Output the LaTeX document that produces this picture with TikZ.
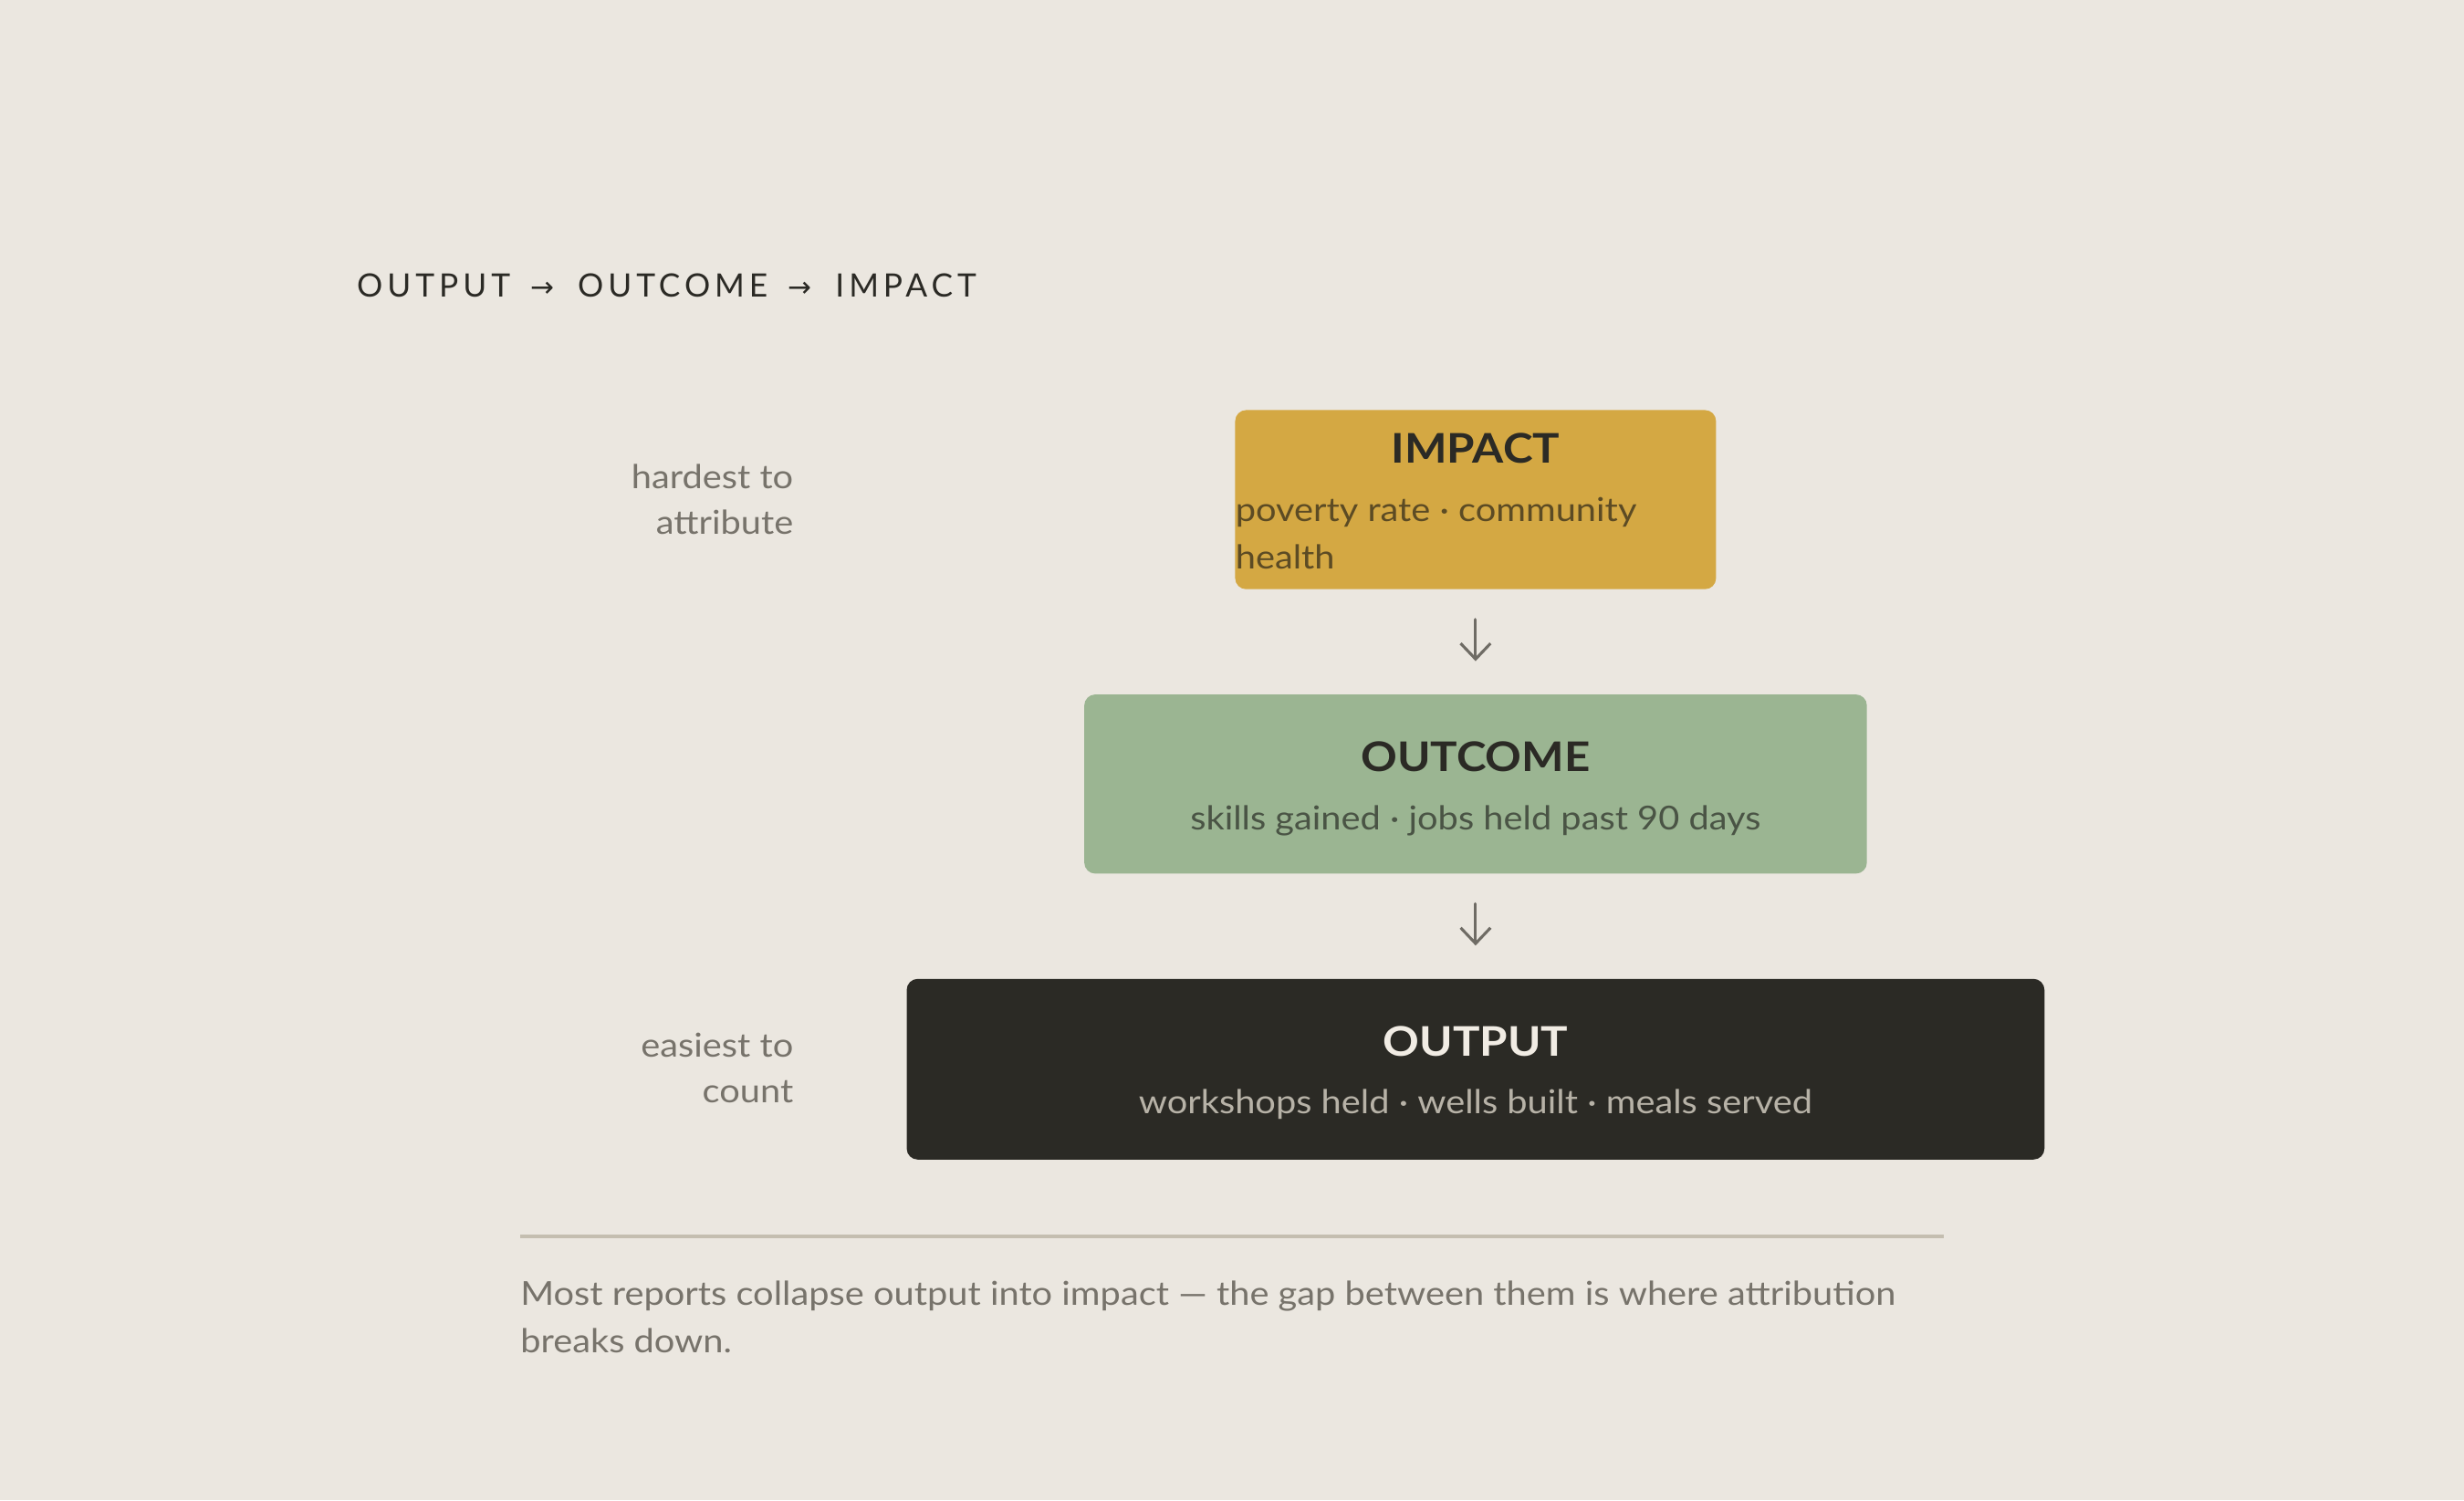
\documentclass[tikz,border=0pt]{standalone}
\usepackage{fontspec}
\setmainfont{Lato}[FakeStretch=1.1]
\newfontfamily\hdfont{Lato}
\newfontfamily\symfont{DejaVu Sans}
\usetikzlibrary{arrows.meta}
\definecolor{bg}{HTML}{EBE7E0}
\definecolor{ink}{HTML}{2B2A25}
\definecolor{gold}{HTML}{D4A843}
\definecolor{sage}{HTML}{9BB592}
\definecolor{goldtxt}{HTML}{5C4B24}
\definecolor{sagetxt}{HTML}{4A5445}
\definecolor{darktxt}{HTML}{B7B2A7}
\definecolor{cream}{HTML}{F1ECE4}
\definecolor{muted}{HTML}{77736B}
\definecolor{rule}{HTML}{C4BEB0}
\definecolor{arrowc}{HTML}{6F6C65}
\tikzset{
  stagebox/.style={rounded corners=7pt, inner sep=0pt},
  stagetitle/.style={anchor=base, inner sep=0pt, font=\fontsize{26}{32}\selectfont\bfseries},
  stagesub/.style={anchor=base, inner sep=0pt, font=\fontsize{21}{30}\selectfont},
  sidelabel/.style={anchor=base east, inner sep=0pt, text=muted, font=\fontsize{21}{29}\selectfont},
  flowarrow/.style={draw=arrowc, line width=1.8pt, line cap=round,
     -{Straight Barb[length=10pt,width=19pt,line width=1.8pt]}},
}
\newcommand{\hdarrow}{\hspace{13pt}{\symfont\fontsize{18}{18}\selectfont→}\hspace{15pt}}
\begin{document}
\begin{tikzpicture}[x=1pt,y=-1pt]
\fill[bg] (0,0) rectangle (1568,954.8);
\useasboundingbox (0,0) rectangle (1568,954.8);
% header
\node[anchor=base west, inner sep=0pt, text=ink, font=\hdfont\fontsize{20.5}{24}\selectfont\addfontfeature{LetterSpace=14}] (header) at (227,189)
  {OUTPUT\hdarrow OUTCOME\hdarrow IMPACT};
% boxes
\node[stagebox, fill=gold, minimum width=306pt, minimum height=114pt] (impact) at (939,318) {};
\node[stagebox, fill=sage, minimum width=498pt, minimum height=114pt] (outcome) at (939,499) {};
\node[stagebox, fill=ink, minimum width=724pt, minimum height=115pt] (output) at (939,680.5) {};
% texts
\node[stagetitle, text=ink] (impactT) at (939,295) {IMPACT};
\node[stagesub, anchor=base west, text=goldtxt] (impactS1) at (786,332) {poverty rate · community};
\node[stagesub, anchor=base west, text=goldtxt] (impactS2) at (786,362) {health};
\node[stagetitle, text=ink] (outcomeT) at (939,491) {OUTCOME};
\node[stagesub, text=sagetxt] (outcomeS) at (939,528) {skills gained · jobs held past 90 days};
\node[stagetitle, text=cream] (outputT) at (939,672) {OUTPUT};
\node[stagesub, text=darktxt] (outputS) at (939,709) {workshops held · wells built · meals served};
% arrows
\draw[flowarrow, shorten <=19pt, shorten >=21pt] (impact.south) -- (outcome.north);
\draw[flowarrow, shorten <=19pt, shorten >=21pt] (outcome.south) -- (output.north);
% side labels
\node[sidelabel] (hard1) at (505,311) {hardest to};
\node[sidelabel] (hard2) at (505,340) {attribute};
\node[sidelabel] (easy1) at (505,673) {easiest to};
\node[sidelabel] (easy2) at (505,702) {count};
% divider
\coordinate (ruleL) at (331,787);
\coordinate (ruleR) at (1237,787);
\draw[rule, line width=2pt] (ruleL) -- (ruleR);
% footnote
\node[anchor=base west, inner sep=0pt, text=muted, font=\fontsize{21}{30}\selectfont] (foot1) at (331,831)
  {Most reports collapse output into impact — the gap between them is where attribution};
\node[anchor=base west, inner sep=0pt, text=muted, font=\fontsize{21}{30}\selectfont] (foot2) at (331,861)
  {breaks down.};
\end{tikzpicture}
\end{document}
